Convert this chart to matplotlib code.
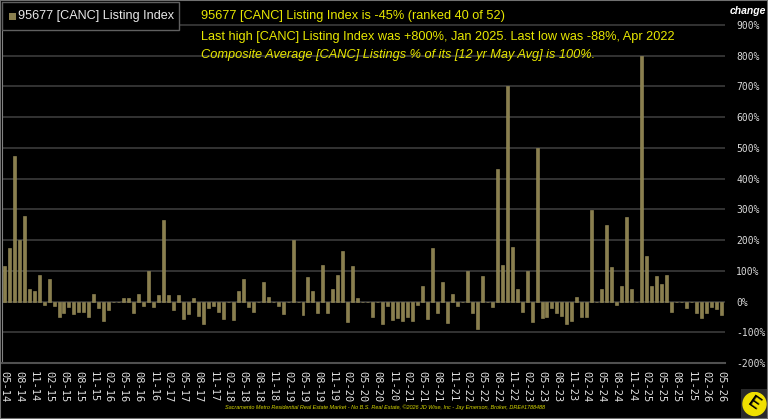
import numpy as np
import pandas as pd
import matplotlib
matplotlib.use("Agg")
import matplotlib.pyplot as plt
from matplotlib.patches import Rectangle, Circle

# Monthly % change of the listing index, May 2014 .. May 2026
months = pd.date_range("2014-05-01", "2026-05-01", freq="MS")
change = [
    117, 174, 473, 199, 279, 40, 33, 86, -11, 75,
    -14, -49, -38, -18, -42, -33, -33, -49, 24, -22,
    -62, -29, 0, 0, 12, 10, -38, 24, -14, 100,
    -18, 20, 266, 20, -29, 20, -57, -40, 12, -46,
    -73, -22, -14, -33, -57, 0, -60, 33, 75, -18,
    -33, 0, 65, 16, 0, -13, -40, 0, 200, 0,
    -43, 79, 33, -38, 118, -38, 42, 86, 166, -66,
    116, 12, 0, 0, -49, 0, -73, -13, -60, -54,
    -63, -49, -62, -11, 49, -57, 174, -38, 65, -71,
    24, -16, 0, 100, -38, -88, 82, 0, -18, 432,
    120, 700, 179, 40, -33, 100, -67, 499, -54, -51,
    -22, -38, -46, -74, -63, 14, -50, -50, 299, 0,
    40, 249, 113, -11, 49, 274, 40, 0, 800, 149,
    49, 83, 57, 86, -33, 0, 0, -20, 0, -38,
    -55, -38, -18, -25, -45,
]
tick_idx = list(range(0, len(months), 3))
tick_labels = [months[i].strftime("%m-%y") for i in tick_idx]

title_line = "95677 [CANC] Listing Index is -45% (ranked 40 of 52)"
high_low = "Last high [CANC] Listing Index was +800%, Jan 2025. Last low was -88%, Apr 2022"
composite = "Composite Average [CANC] Listings % of its [12 yr May Avg] is 100%."
footer = ("Sacramento Metro Residential Real Estate Market - No B.S. Real Estate, "
          "\u00a92026 JD Wise, Inc - Jay Emerson, Broker, DRE#1788488")

plt.rcParams["font.family"] = ["Liberation Sans", "DejaVu Sans"]

bar_color = "#8a7f4e"
yellow = "#e8e800"
grid_color = "#3c3c3c"

fig = plt.figure(figsize=(7.68, 4.19), dpi=100, facecolor="black")
ax = fig.add_axes([2 / 768, 56 / 419, 723 / 768, 361 / 419], facecolor="black")

x = np.arange(len(change))
ax.bar(x, change, width=0.6, color=bar_color, edgecolor="#9a8f5c", linewidth=0.4, zorder=3)

ax.set_xlim(-0.45, len(change) - 0.25)
ax.set_ylim(-200, 975)
ax.set_yticks(range(-200, 1000, 100))
ax.set_yticklabels([f"{v}%" for v in range(-200, 1000, 100)], family="DejaVu Sans Mono")
ax.yaxis.tick_right()
ax.tick_params(axis="y", length=0, pad=8, labelsize=7, labelcolor="#d8d8d8")
ax.grid(axis="y", color=grid_color, linewidth=1.2, zorder=0)

ax.set_xticks(tick_idx)
ax.set_xticklabels(tick_labels, rotation=270, family="DejaVu Sans Mono")
ax.tick_params(axis="x", length=0, pad=6, labelsize=7.5, labelcolor="#e0e0e0")

for side in ["top", "right"]:
    ax.spines[side].set_visible(False)
ax.spines["left"].set_color("#808080")
ax.spines["bottom"].set_color("#505050")
ax.spines["bottom"].set_linewidth(1.5)

# legend box
fig.patches.append(Rectangle((2 / 768, 389 / 419), 177 / 768, 28 / 419, transform=fig.transFigure,
                             facecolor="black", edgecolor="#606060", linewidth=1, zorder=5))
fig.patches.append(Rectangle((9 / 768, 399 / 419), 7 / 768, 7 / 419, transform=fig.transFigure,
                             facecolor=bar_color, edgecolor="none", zorder=6))
fig.text(18 / 768, 403 / 419, "95677 [CANC] Listing Index", color="#e8e8e8", fontsize=9.1,
         va="center", ha="left", zorder=7)

# annotation text
fig.text(201 / 768, 403 / 419, title_line, color=yellow, fontsize=9.2, va="center", zorder=7)
fig.text(201 / 768, 382 / 419, high_low, color=yellow, fontsize=9.2, va="center", zorder=7)
fig.text(201 / 768, 364 / 419, composite, color=yellow, fontsize=9.2, va="center",
         style="italic", zorder=7)
fig.text(748 / 768, 408 / 419, "change", color="white", fontsize=7.5, va="center", ha="center",
         style="italic", weight="bold")

fig.text(385 / 768, 12 / 419, footer, color="#d8d800", fontsize=4.0, style="italic",
         ha="center", va="center")

# logo
fig.patches.append(Rectangle((741 / 768, 0), 27 / 768, 30 / 419, transform=fig.transFigure,
                             facecolor="#2a2a2a", edgecolor="none"))
logo = fig.add_axes([742 / 768, 2 / 419, 25 / 768, 26 / 419])
logo.set_zorder(10)
logo.set_xlim(-1, 1)
logo.set_ylim(-1, 1)
logo.set_aspect("equal")
logo.axis("off")
logo.add_patch(Circle((0, 0), 0.92, color="#f0e000"))
logo.text(0, 0, "E", color="black", fontsize=12, weight="bold", ha="center", va="center",
          rotation=-35)

# outer frame
fig.patches.append(Rectangle((0, 0), 1, 1, transform=fig.transFigure, fill=False,
                             edgecolor="#707070", linewidth=1.5))

fig.savefig("out.png", dpi=100, facecolor="black")
